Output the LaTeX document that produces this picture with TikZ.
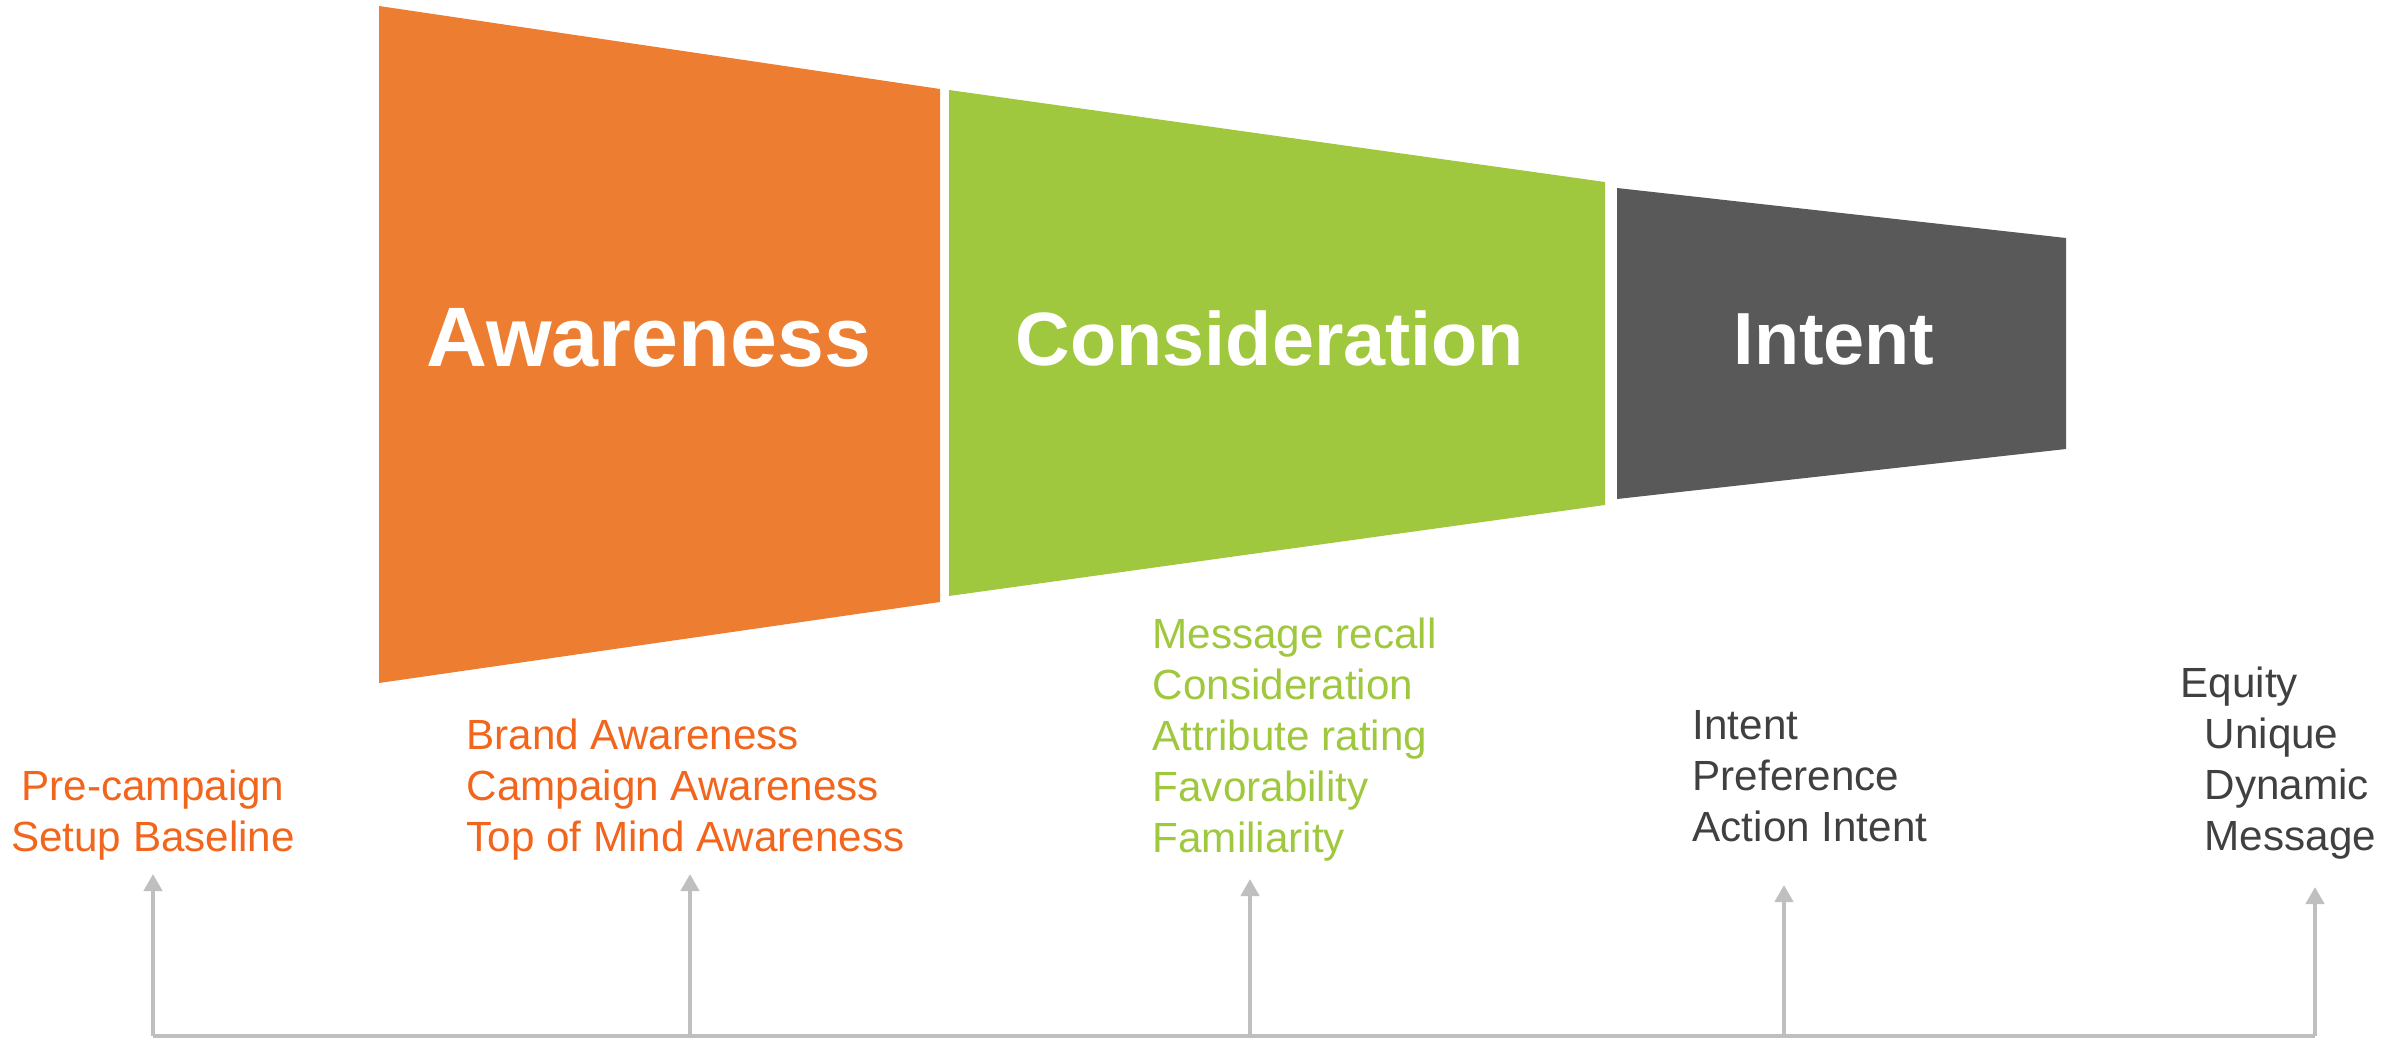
\documentclass[tikz,border=0pt]{standalone}
\usepackage{fontspec}
\setmainfont{Liberation Sans}
\usepackage{xcolor}
\usepackage{tikz}
\usetikzlibrary{positioning, arrows.meta}

\definecolor{awareorange}{HTML}{ED7D31}
\definecolor{awaretext}{HTML}{F2651C}
\definecolor{considgreen}{HTML}{A0C83E}
\definecolor{intentgray}{HTML}{595959}
\definecolor{listgray}{HTML}{404040}
\definecolor{axisgray}{HTML}{BFBFBF}

\tikzset{
	stage/.style={font=\fontsize{#1}{28}\selectfont\bfseries, text=white, anchor=base, inner sep=0pt},
	stage/.default=24,
	measures/.style={font=\fontsize{12}{14.5}\selectfont, align=left, anchor=base west, inner sep=0pt},
	timeline/.style={axisgray, line width=1.4pt},
	uparrow/.style={timeline, -{Triangle[width=1.8mm,length=1.7mm]}}
}

\begin{document}
\begin{tikzpicture}[x=0.01cm, y=-0.01cm]
			\useasboundingbox (0,0) rectangle (2405,1042);
			% funnel stages
			\fill[awareorange] (379,6) -- (940,89) -- (940,602) -- (379,683) -- cycle;
			\fill[considgreen] (949,90) -- (1605,182) -- (1605,505) -- (949,596) -- cycle;
			\fill[intentgray] (1617,188) -- (2066,238) -- (2066,449) -- (1617,499) -- cycle;
			\node[stage] (aware) at (649,366) {Awareness};
			\node[stage=21.5] (consid) at (1270,365) {Consideration};
			\node[stage=21] (intent) at (1834,364) {Intent};
			
			% measures below each stage (anchored at the last line)
			\node[measures, align=center, anchor=base, text=awaretext] (pre) at (153,851) {Pre-campaign\\Setup Baseline};
			\node[measures, text=awaretext] (awarelist) at (466,851) {Brand Awareness\\Campaign Awareness\\Top of Mind Awareness};
			\node[measures, text=considgreen] (considlist) at (1152,852) {Message recall\\Consideration\\Attribute rating\\Favorability\\Familiarity};
			\node[measures, text=listgray] (intentlist) at (1692,841) {Intent\\Preference\\Action Intent};
			\node[measures, text=listgray] (equitylist) at (2180,850) {Equity\\\hspace{2.4mm}Unique\\\hspace{2.4mm}Dynamic\\\hspace{2.4mm}Message};
			
			% timeline
			\foreach \n/\x/\t in {1/153/874, 2/690/874, 3/1250/879, 4/1784/885, 5/2315/887} {
				\coordinate (b\n) at (\x,1036);
				\coordinate (t\n) at (\x,\t);
			}
			\draw[timeline] (b1) -- (b5);
			\foreach \n in {1,...,5}
			\draw[uparrow] (b\n) -- (t\n);
			
		\end{tikzpicture}
\end{document}
